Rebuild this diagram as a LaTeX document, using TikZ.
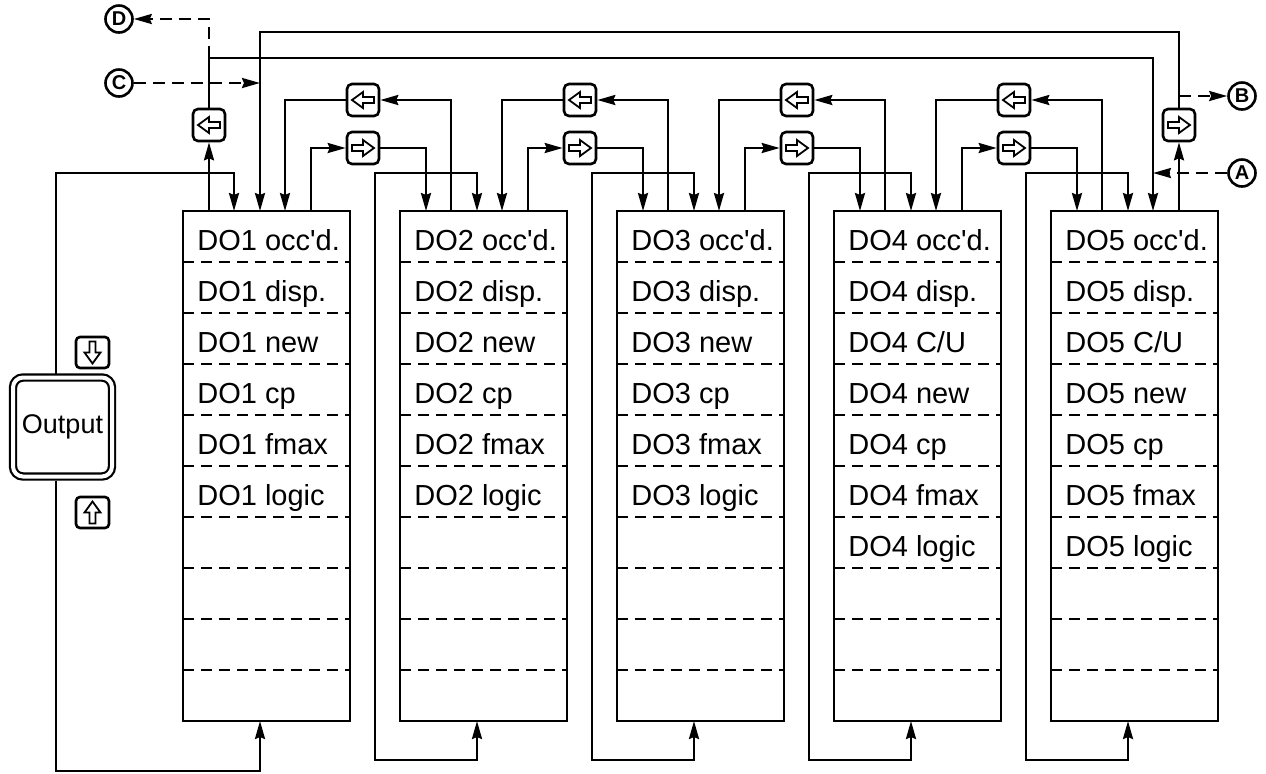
\documentclass[tikz,border=0pt]{standalone}
\usepackage{fontspec}
\setmainfont{Liberation Sans}[Ligatures=TeXOff]
\usetikzlibrary{arrows.meta,calc}

\tikzset{
  wire/.style={line width=1.2pt},
  feed/.style={wire, -{Stealth[length=9pt,width=5pt,inset=1pt]}},
  loopwire/.style={wire, {Stealth[length=9pt,width=5pt,inset=1pt]}-{Stealth[length=9pt,width=5pt,inset=1pt]}},
  jump/.style={feed, dash pattern=on 6pt off 3.5pt},
  rowline/.style={line width=1.2pt, dash pattern=on 5.5pt off 3.5pt},
  dobox/.style={draw, line width=1.25pt, minimum width=83.5pt, minimum height=255pt,
    inner sep=0pt, outer sep=0pt},
  keybox/.style={draw, line width=1.3pt, rounded corners=2.5pt, minimum width=16pt,
    minimum height=16pt, inner sep=0pt},
  outkey/.style={draw, double, double distance=2pt, line width=1.1pt, rounded corners=5pt,
    minimum size=49.5pt, inner sep=0pt, outer sep=2pt, font=\fontsize{13.5}{16}\selectfont},
  tag/.style={draw, circle, line width=1.3pt, minimum size=13.5pt, inner sep=0pt,
    font=\bfseries\fontsize{10}{10}\selectfont},
  rowtext/.style={anchor=base west, inner sep=0pt, font=\fontsize{14.5}{17}\selectfont},
  % hollow arrow on a key, pointing left unless rotated
  keyarrow/.pic={\draw[line width=0.9pt, line join=miter]
    (-11,0) -- (0,-8) -- (0,-3) -- (11,-3) -- (11,3) -- (0,3) -- (0,8) -- cycle;},
}

% Row labels of one store (box number, entries)
\newcommand{\dolist}[2]{%
  \foreach \txt [count=\i] in {#2}
    \node[rowtext] (t#1-\i) at ($(do#1.north west)+(14,39+51*\i-51)$) {DO#1 \txt};}

\begin{document}
\begin{tikzpicture}[x=0.5pt,y=-0.5pt]
\useasboundingbox (0,0) rectangle (1266,773);

% ---- layout parameters ----
\def\yKeyL{100}   % row of the left-hand keys
\def\yKeyR{148}   % row of the right-hand keys
\def\yLoopT{173}  % top of the return loops
\def\yLoopB{760}  % bottom of the return loops
\coordinate (hA) at (0,58);   % line DO1 -> DO5
\coordinate (hB) at (0,32);   % line DO5 -> DO1

% ---- the five stores ----
\foreach \k in {1,...,5}
  \node[dobox] (do\k) at ({266.5+217*(\k-1)},466) {};
\foreach \k in {1,...,5}{
  \foreach \j in {1,...,9}
    \draw[rowline] ($(do\k.north west)+(0,51*\j)$) -- ($(do\k.north east)+(0,51*\j)$);
  \foreach \off [count=\j] in {26,51,77,102,128}
    \coordinate (do\k-p\j) at ($(do\k.north west)+(\off,0)$);
  \coordinate (do\k-s) at ($(do\k.south west)+(77,0)$);
}
\dolist{1}{occ'd., disp., new, cp, fmax, logic}
\dolist{2}{occ'd., disp., new, cp, fmax, logic}
\dolist{3}{occ'd., disp., new, cp, fmax, logic}
\dolist{4}{occ'd., disp., C/U, new, cp, fmax, logic}
\dolist{5}{occ'd., disp., C/U, new, cp, fmax, logic}

% ---- shift keys ----
\foreach \k in {1,...,4}{
  \node[keybox] (bl\k) at ({363+217*(\k-1)},\yKeyL) {};
  \node[keybox] (br\k) at ({363+217*(\k-1)},\yKeyR) {};
  \pic at (bl\k) {keyarrow};
  \pic[rotate=180] at (br\k) {keyarrow};
}
\node[keybox] (bl0) at (209,125) {};
\node[keybox] (br5) at (1179,125) {};
\pic at (bl0) {keyarrow};
\pic[rotate=180] at (br5) {keyarrow};

% neighbour links
\foreach \k [evaluate=\k as \n using int(\k+1)] in {1,...,4}{
  \draw[feed] (do\n-p2) |- (bl\k.east);
  \draw[feed] (bl\k.west) -| (do\k-p4);
  \draw[feed] (do\k-p5) |- (br\k.west);
  \draw[feed] (br\k.east) -| (do\n-p1);
}

% wrap-around links
\draw[feed] (do1-p1) -- (bl0.south);
\draw[feed] (bl0.north) |- (hA -| do5-p4) -- (do5-p4);
\draw[feed] (do5-p5) -- (br5.south);
\draw[feed] (br5.north) |- (hB -| do1-p3) -- (do1-p3);

% ---- return loops ----
\foreach \k in {2,...,5}{
  \coordinate (lt\k) at ({183+217*(\k-1)-25},\yLoopT);
  \coordinate (lb\k) at ({183+217*(\k-1)-25},\yLoopB);
  \draw[loopwire] (do\k-s) |- (lb\k) -- (lt\k) -| (do\k-p3);
}

% Output key on the first loop
\node[outkey] (out) at (62.5,427) {Output};
\node[keybox, minimum width=16.5pt, minimum height=15.5pt, rounded corners=2pt] (kdn) at (92.5,352.5) {};
\node[keybox, minimum width=16.5pt, minimum height=15.5pt, rounded corners=2pt] (kup) at (92.5,512.5) {};
\pic[rotate=90] at (kdn) {keyarrow};
\pic[rotate=-90] at (kup) {keyarrow};
\coordinate (lt1) at (56,\yLoopT);
\coordinate (lb1) at (56,771);
\draw[feed] (lt1 |- out.north) -- (lt1) -| (do1-p2);
\draw[feed] (lt1 |- out.south) -- (lb1) -| (do1-s);

% ---- off-page connectors ----
\node[tag] (tagD) at (119,19) {D};
\node[tag] (tagC) at (119,83) {C};
\node[tag] (tagB) at (1242,96) {B};
\node[tag] (tagA) at (1242,173) {A};
\draw[jump] (bl0.north |- hA) |- (tagD.east);
\draw[jump] (tagC.east) -- (tagC.east -| do1-p3);
\draw[jump] (br5.north |- tagB) -- (tagB.west);
\draw[jump] (tagA.west) -- (tagA.west -| do5-p4);

\end{tikzpicture}
\end{document}
